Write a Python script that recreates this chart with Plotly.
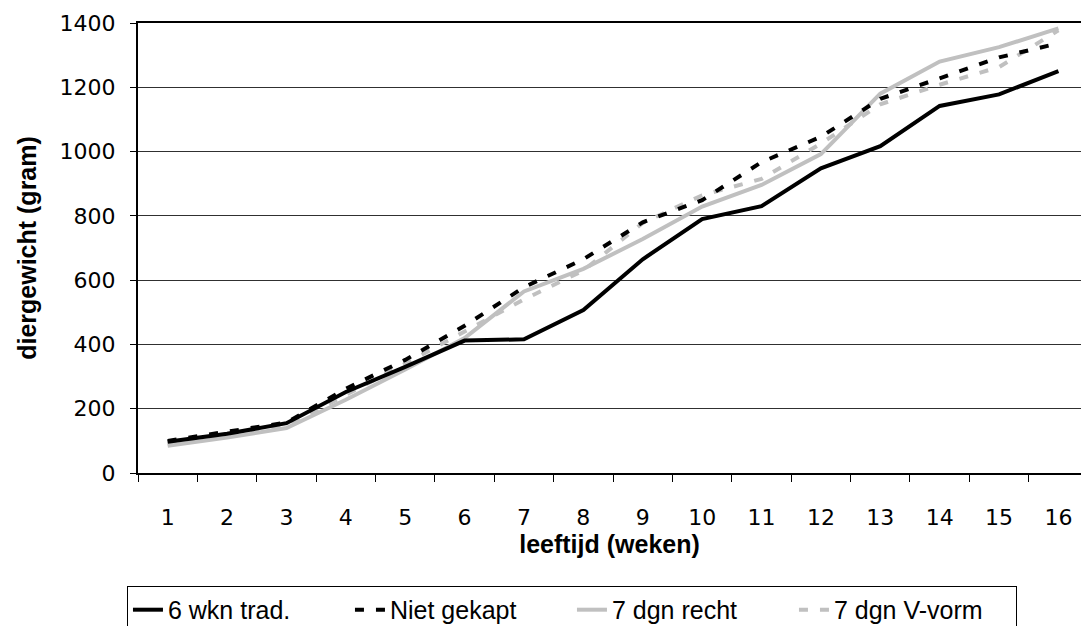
import plotly.graph_objects as go

weeks = list(range(1, 17))
tick_labels = [str(w) for w in weeks]

trad_6wkn = [97, 122, 155, 252, 330, 412, 416, 507, 665, 790, 830, 948, 1017, 1142, 1178, 1250]
niet_gekapt = [100, 127, 157, 262, 352, 458, 578, 665, 780, 849, 967, 1046, 1164, 1228, 1293, 1337]
dgn7_recht = [85, 110, 140, 228, 322, 420, 565, 635, 728, 829, 896, 992, 1180, 1280, 1325, 1383]
dgn7_vvorm = [90, 115, 146, 242, 340, 440, 540, 630, 778, 864, 915, 1025, 1147, 1208, 1263, 1377]

series_names = ["6 wkn trad.", "Niet gekapt", "7 dgn recht", "7 dgn V-vorm"]

fig = go.Figure()

# drawing order: gray solid, gray dashed, black dashed, black solid (legend ranks keep order)
fig.add_trace(go.Scatter(x=weeks, y=dgn7_recht, name=series_names[2], mode="lines",
                         line=dict(color="#C0C0C0", width=4), legendrank=3))
fig.add_trace(go.Scatter(x=weeks, y=dgn7_vvorm, name=series_names[3], mode="lines",
                         line=dict(color="#C0C0C0", width=4, dash="9px,12px"), legendrank=4))
fig.add_trace(go.Scatter(x=weeks, y=niet_gekapt, name=series_names[1], mode="lines",
                         line=dict(color="#000000", width=4, dash="9px,12px"), legendrank=2))
fig.add_trace(go.Scatter(x=weeks, y=trad_6wkn, name=series_names[0], mode="lines",
                         line=dict(color="#000000", width=4), legendrank=1))

tick_font = dict(family="DejaVu Sans", size=22, color="#000000")
title_font = dict(family="Liberation Sans, Arial", size=25, color="#000000")

fig.update_layout(
    width=1081, height=626,
    margin=dict(l=138, r=0, t=23, b=153, autoexpand=False),
    paper_bgcolor="white", plot_bgcolor="white",
    showlegend=True,
    legend=dict(
        orientation="h",
        x=-0.0117, xanchor="left",
        y=-0.251, yanchor="top",
        font=dict(family="Liberation Sans, Arial", size=25, color="#000000"),
        bordercolor="#000000", borderwidth=1, bgcolor="white",
        traceorder="normal",
        itemwidth=30,
        entrywidth=177, entrywidthmode="pixels",
    ),
)

fig.update_xaxes(
    range=[0.5, 16.38],
    tickmode="array", tickvals=weeks, ticktext=tick_labels,
    ticks="", ticklabelstandoff=24,
    tickfont=tick_font,
    showgrid=False, zeroline=False,
    showline=True, linecolor="#000000", linewidth=2, mirror=True,
    minor=dict(tick0=0.5, dtick=1, ticks="outside", ticklen=7, tickcolor="#000000", tickwidth=1, showgrid=False),
    title=dict(text="<b>leeftijd (weken)</b>", font=title_font, standoff=6),
)

fig.update_yaxes(
    range=[0, 1400], dtick=200,
    ticks="outside", ticklen=6, tickcolor="#000000", tickwidth=1,
    ticklabelstandoff=10,
    tickfont=tick_font,
    showgrid=True, gridcolor="#303030", gridwidth=1,
    zeroline=False,
    showline=True, linecolor="#000000", linewidth=2,
    title=dict(text="<b>diergewicht (gram)</b>", font=title_font, standoff=16),
)

fig.write_html("out.html")
